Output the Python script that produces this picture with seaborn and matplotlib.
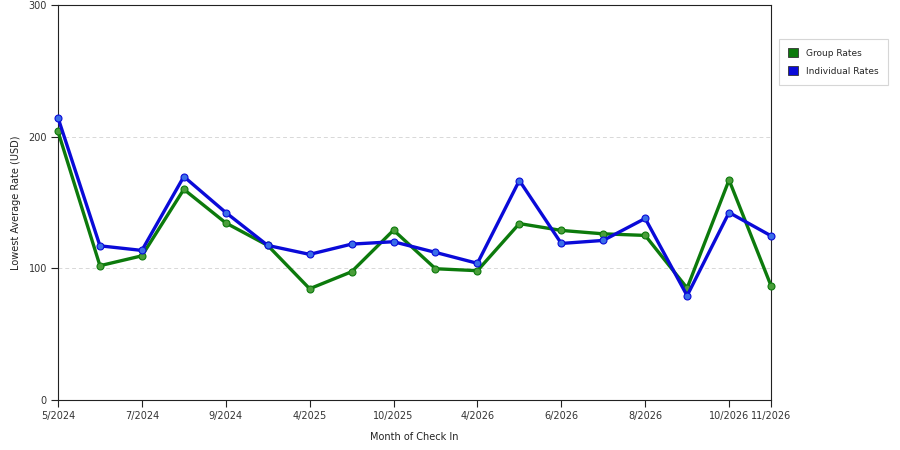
import matplotlib
matplotlib.use('Agg')
import matplotlib.pyplot as plt
from matplotlib.patches import Patch
import seaborn as sns
import pandas as pd

# data
months = ['5/2024', '6/2024', '7/2024', '8/2024', '9/2024', '10/2024',
          '4/2025', '5/2025', '10/2025', '11/2025', '4/2026', '5/2026',
          '6/2026', '7/2026', '8/2026', '9/2026', '10/2026', '11/2026']
group_rates = [204, 102, 109.5, 160, 134.5, 117.4, 84.5, 97.4, 129,
               99.7, 98.2, 134, 128.8, 126.2, 125, 85, 167.1, 86.8]
individual_rates = [214.4, 117.1, 113.6, 169.7, 142.4, 117.4, 110.6, 118.4, 120.2,
                    112.1, 103.8, 166.7, 118.9, 121.2, 137.9, 79.2, 142.4, 124.7]
tick_labels = ['5/2024', '7/2024', '9/2024', '4/2025', '10/2025',
               '4/2026', '6/2026', '8/2026', '10/2026', '11/2026']
y_ticks = [0, 100, 200, 300]

series_names = ['Group Rates', 'Individual Rates']
line_colors = {'Group Rates': '#0c7a0c', 'Individual Rates': '#0a0ad8'}
marker_colors = {'Group Rates': '#4a9e3a', 'Individual Rates': '#3a6ee8'}

df = pd.DataFrame({
    'idx': list(range(len(months))) * 2,
    'month': months * 2,
    'rate': group_rates + individual_rates,
    'series': ['Group Rates'] * len(months) + ['Individual Rates'] * len(months),
})

sns.set_style('white')
plt.rcParams['font.family'] = ['DejaVu Sans']

fig = plt.figure(figsize=(9, 4.5), dpi=100)
ax = fig.add_axes([58 / 900, 1 - 400 / 450, (771 - 58) / 900, (400 - 5) / 450])

for name in series_names:
    sub = df[df['series'] == name]
    sns.lineplot(data=sub, x='idx', y='rate', ax=ax, color=line_colors[name],
                 linewidth=2.4, marker='o', markersize=5,
                 markerfacecolor=marker_colors[name],
                 markeredgecolor=line_colors[name], markeredgewidth=0.8,
                 legend=False, zorder=3, clip_on=False)

ax.set_xlim(0, len(months) - 1)
ax.set_ylim(0, 300)
ax.set_yticks(y_ticks)
ax.set_yticklabels([str(v) for v in y_ticks], fontsize=7, color='#333333')
ax.set_xticks([months.index(m) for m in tick_labels])
ax.set_xticklabels(tick_labels, fontsize=7, color='#333333')
ax.tick_params(axis='both', direction='out', length=5, width=0.8,
               color='#222222', pad=3, bottom=True, left=True)

for v in [100, 200]:
    ax.axhline(v, color='#d8d8d8', linestyle=(0, (4, 3)), linewidth=0.7, zorder=1)

for sp in ax.spines.values():
    sp.set_visible(True)
    sp.set_color('#222222')
    sp.set_linewidth(0.8)

ax.set_xlabel('Month of Check In', fontsize=7, labelpad=8, color='#222222')
ax.set_ylabel('Lowest Average Rate (USD)', fontsize=7, labelpad=5, color='#222222')

handles = [Patch(facecolor=line_colors[n], edgecolor='#333333', linewidth=0.6, label=n)
           for n in series_names]
leg = fig.legend(handles=handles, loc='upper left',
                 bbox_to_anchor=(779 / 900, 1 - 39 / 450),
                 fontsize=6.5, frameon=True, fancybox=False,
                 handlelength=1.1, handleheight=1.2, handletextpad=0.9,
                 borderpad=1.0, labelspacing=0.9, borderaxespad=0)
leg.get_frame().set_edgecolor('#cccccc')
leg.get_frame().set_linewidth(0.8)

fig.savefig('out.png', dpi=100)
plt.close(fig)
